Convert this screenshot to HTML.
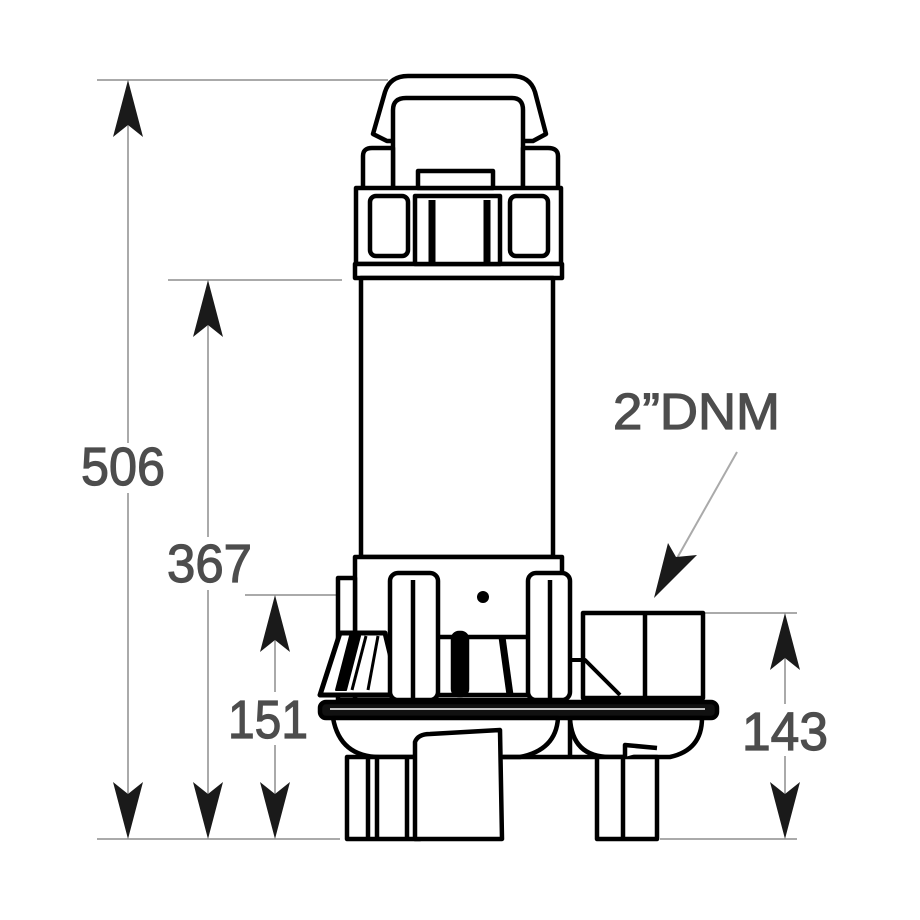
<!DOCTYPE html>
<html><head><meta charset="utf-8"><style>html,body{margin:0;padding:0;background:#fff}svg{display:block}</style></head>
<body>
<svg width="920" height="920" viewBox="0 0 920 920" xmlns="http://www.w3.org/2000/svg">
<g stroke="#aaa" stroke-width="2" fill="none">
<line x1="97" y1="80" x2="388" y2="80"/>
<line x1="97" y1="839" x2="340" y2="839"/>
<line x1="168" y1="280" x2="342" y2="280"/>
<line x1="245" y1="595" x2="376" y2="595"/>
<line x1="700" y1="613" x2="797" y2="613"/>
<line x1="660" y1="839" x2="797" y2="839"/>
<line x1="128" y1="120" x2="128" y2="443"/><line x1="128" y1="493" x2="128" y2="800"/>
<line x1="208" y1="320" x2="208" y2="537"/><line x1="208" y1="590" x2="208" y2="800"/>
<line x1="275" y1="630" x2="275" y2="692"/><line x1="275" y1="745" x2="275" y2="800"/>
<line x1="785" y1="650" x2="785" y2="704"/><line x1="785" y1="756" x2="785" y2="800"/>
<line x1="737" y1="452" x2="676" y2="560"/>
</g>
<g fill="#1a1a1a">
<path d="M128 80 L143 137 L128 125 L113 137Z"/>
<path d="M128 839 L143 782 L128 794 L113 782Z"/>
<path d="M208 280 L223 337 L208 325 L193 337Z"/>
<path d="M208 839 L223 782 L208 794 L193 782Z"/>
<path d="M275 595 L290 652 L275 640 L260 652Z"/>
<path d="M275 839 L290 782 L275 794 L260 782Z"/>
<path d="M785 613 L800 670 L785 658 L770 670Z"/>
<path d="M785 839 L800 782 L785 794 L770 782Z"/>
<path d="M654 598 L668 543 L676 557 L697 555Z"/>
</g>
<g fill="#4d4d4d" stroke="#4d4d4d" stroke-width="1.2" font-family="Liberation Sans, sans-serif" font-size="54">
<text x="81" y="485" textLength="84" lengthAdjust="spacingAndGlyphs">506</text>
<text x="167" y="582" textLength="85" lengthAdjust="spacingAndGlyphs">367</text>
<text x="228" y="738" textLength="80" lengthAdjust="spacingAndGlyphs">151</text>
<text x="742" y="750" textLength="86" lengthAdjust="spacingAndGlyphs">143</text>
<text x="613" y="429" font-size="51" textLength="167" lengthAdjust="spacingAndGlyphs">2”DNM</text>
</g>
<g stroke="#000" stroke-width="4.5" fill="#fff" stroke-linejoin="round">
<path d="M373 134 L385 92 Q390 76 408 76 L512 76 Q530 76 535 92 L546 134 L533 141 L387 141Z"/>
<path d="M393 190 L393 110 Q393 98 406 98 L512 98 Q523 98 523 110 L523 190"/>
<path d="M363 190 L363 156 Q363 148 372 148 L393 148 L393 190Z"/>
<path d="M523 190 L523 148 L548 148 Q558 148 558 156 L558 190Z"/>
<rect x="356" y="188" width="205" height="76"/>
<rect x="355" y="264" width="207" height="14"/>
<rect x="418" y="171" width="75" height="17"/>
<rect x="370" y="196" width="38" height="60" rx="6"/>
<rect x="510" y="196" width="38" height="60" rx="6"/>
<rect x="415" y="196" width="85" height="68"/>
<line x1="432" y1="200" x2="432" y2="264" stroke-width="7"/>
<line x1="487" y1="200" x2="487" y2="264" stroke-width="7"/>
<rect x="361" y="278" width="192" height="279"/>
<rect x="355" y="557" width="207" height="143"/>
<rect x="338" y="578" width="17" height="122"/>
<path d="M340 633 L320 695 L400 695 L385 633Z" stroke-width="5"/>
<path d="M336 690 L350 636 L360 636 L346 690Z" fill="#000" stroke-width="2"/>
<line x1="352" y1="690" x2="366" y2="636" stroke-width="3"/>
<line x1="368" y1="690" x2="378" y2="636" stroke-width="3"/>
<path d="M430 637 L412 695 L548 695 L530 637Z"/>
<rect x="453" y="633" width="14" height="62" rx="6" fill="#000"/>
<path d="M502 637 L510 695" stroke-width="7"/>
<rect x="390" y="573" width="48" height="127" rx="8"/>
<line x1="413" y1="580" x2="413" y2="700"/>
<rect x="528" y="573" width="42" height="127" rx="8"/>
<line x1="550" y1="580" x2="550" y2="700"/>
<rect x="583" y="613" width="120" height="85"/>
<line x1="645" y1="613" x2="645" y2="698"/>
<path d="M572 660 L585 660 L620 695" stroke-width="4" fill="none"/>
<rect x="320" y="702" width="397" height="16" rx="6" fill="#111"/>
<line x1="330" y1="709" x2="705" y2="709" stroke="#fff" stroke-width="1.5"/>
<path d="M333 718 Q340 757 380 757 L520 757 Q556 750 558 718Z"/>
<path d="M570 718 Q572 757 610 757 L670 757 Q702 750 702 718Z"/>
<line x1="503" y1="757" x2="600" y2="757"/>
<line x1="570" y1="718" x2="570" y2="757"/>
<rect x="347" y="757" width="73" height="82"/>
<line x1="368" y1="757" x2="368" y2="839"/>
<line x1="377" y1="757" x2="377" y2="839"/>
<line x1="407" y1="757" x2="407" y2="839"/>
<path d="M415 839 L415 742 Q418 734 430 734 L500 730 L502 839Z"/>
<rect x="597" y="757" width="60" height="82"/>
<line x1="623" y1="757" x2="623" y2="839"/>
<path d="M625 757 L625 745 L657 748"/>
</g>
<circle cx="483" cy="597" r="6" fill="#000"/>
</svg>
</body></html>
